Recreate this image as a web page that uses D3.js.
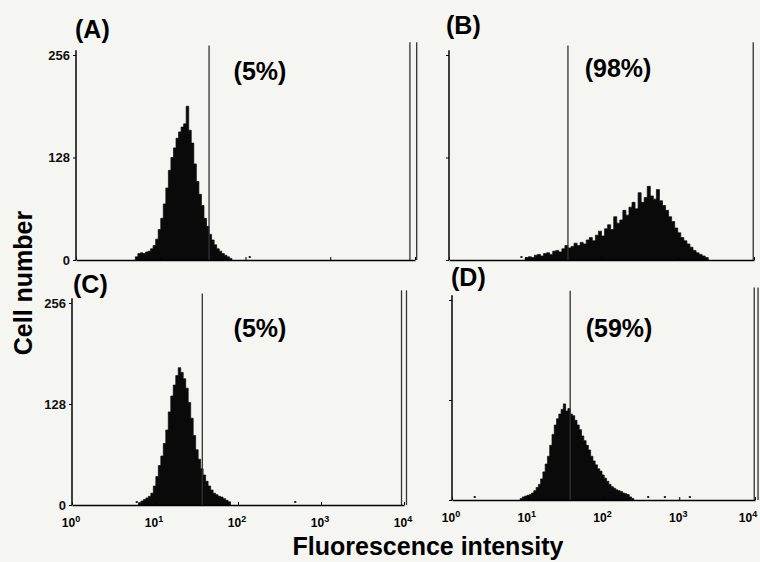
<!DOCTYPE html>
<html>
<head>
<meta charset="utf-8">
<script src="https://cdn.jsdelivr.net/npm/d3@7"></script>
<style>
  body { margin: 0; background: #f5f5f2; }
  svg { font-family: "Liberation Sans", Arial, sans-serif; font-weight: bold; }
</style>
</head>
<body>
<div id="chart"></div>
<script>
// panel titles and gated percentages
var panelNames = ["(A)", "(B)", "(C)", "(D)"];
var percents = ["(5%)", "(98%)", "(5%)", "(59%)"];

// tick values (x is log10 of fluorescence intensity)
var yTicks = [0, 128, 256];
var xTicks = [0, 1, 2, 3, 4];

// histogram channels (log10 intensity) and cell counts
var logA = [0.70, 0.73, 0.76, 0.79, 0.82, 0.85, 0.88, 0.91, 0.94, 0.97, 1.00, 1.03, 1.06, 1.09, 1.12, 1.15, 1.18, 1.21, 1.24, 1.27,
            1.30, 1.33, 1.36, 1.39, 1.42, 1.45, 1.48, 1.51, 1.54, 1.57, 1.60, 1.63, 1.66, 1.69, 1.72, 1.75, 1.78, 1.81];
var countA = [4, 8, 9, 8, 10, 11, 14, 18, 26, 38, 52, 70, 90, 112, 128, 140, 152, 160, 166, 170,
              192, 162, 146, 120, 98, 82, 68, 52, 42, 32, 25, 19, 14, 11, 8, 6, 4, 2];

var logB = [1.00, 1.04, 1.08, 1.12, 1.16, 1.20, 1.24, 1.28, 1.32, 1.36, 1.40, 1.44, 1.48, 1.52, 1.56, 1.60, 1.64, 1.68, 1.72, 1.76,
            1.80, 1.84, 1.88, 1.92, 1.96, 2.00, 2.04, 2.08, 2.12, 2.16, 2.20, 2.24, 2.28, 2.32, 2.36, 2.40, 2.44, 2.48, 2.52, 2.56,
            2.60, 2.64, 2.68, 2.72, 2.76, 2.80, 2.84, 2.88, 2.92, 2.96, 3.00, 3.04, 3.08, 3.12, 3.16, 3.20, 3.24, 3.28, 3.32, 3.36];
var countB = [3, 4, 3, 6, 7, 5, 8, 9, 7, 11, 12, 10, 14, 18, 15, 17, 21, 18, 22, 20,
              25, 28, 24, 31, 36, 30, 39, 44, 38, 54, 46, 50, 62, 56, 66, 72, 64, 84, 72, 78,
              92, 80, 76, 88, 74, 68, 62, 54, 48, 40, 34, 28, 24, 20, 16, 12, 9, 7, 5, 3];

var logC = [0.80, 0.83, 0.86, 0.89, 0.92, 0.95, 0.98, 1.01, 1.04, 1.07, 1.10, 1.13, 1.16, 1.19, 1.22, 1.25, 1.28, 1.31, 1.34,
            1.37, 1.40, 1.43, 1.46, 1.49, 1.52, 1.55, 1.58, 1.61, 1.64, 1.67, 1.70, 1.73, 1.76, 1.79, 1.82, 1.85, 1.88];
var countC = [3, 5, 7, 9, 11, 15, 24, 36, 50, 62, 78, 95, 118, 138, 152, 164, 174, 168, 160,
              148, 130, 110, 88, 70, 58, 46, 38, 30, 24, 19, 15, 13, 11, 10, 8, 6, 4];

var logD = [0.90, 0.93, 0.96, 0.99, 1.02, 1.05, 1.08, 1.11, 1.14, 1.17, 1.20, 1.23, 1.26, 1.29, 1.32, 1.35, 1.38, 1.41, 1.44, 1.47,
            1.50, 1.53, 1.56, 1.59, 1.62, 1.65, 1.68, 1.71, 1.74, 1.77, 1.80, 1.83, 1.86, 1.89, 1.92, 1.95, 1.98, 2.01, 2.04, 2.07,
            2.10, 2.13, 2.16, 2.19, 2.22, 2.25, 2.28, 2.31, 2.34, 2.37];
var countD = [2, 4, 5, 6, 7, 9, 12, 16, 20, 27, 36, 46, 56, 70, 84, 96, 104, 110, 116, 123,
              114, 117, 110, 108, 102, 96, 90, 82, 76, 70, 64, 56, 50, 45, 40, 37, 32, 28, 24, 20,
              17, 15, 13, 12, 11, 9, 8, 7, 4, 2];

// isolated single events seen along the baseline
var strayA = [2.05];
var strayB = [0.95];
var strayC = [0.78, 2.69];
var strayD = [0.30, 2.59, 2.81, 3.14];

// marker lines (log10 intensity)
var gateLow = [1.57, 1.56, 1.57, 1.56];
var gateHigh = [[3.94, 4.02], [3.99], [3.97, 4.03], [3.99, 4.04]];

var histLogs = [logA, logB, logC, logD];
var histCounts = [countA, countB, countC, countD];
var strays = [strayA, strayB, strayC, strayD];

// where each panel sits on the page (scanned figure is slightly uneven)
var layout = [
  {x0: 76,  x1: 415, y0: 260, y1: 55,  yLabels: true,  xLabels: false, name: [75, 38],  pct: [260, 80]},
  {x0: 449, x1: 754, y0: 260, y1: 55,  yLabels: false, xLabels: false, name: [446, 34], pct: [618, 77]},
  {x0: 72,  x1: 404, y0: 505, y1: 303, yLabels: true,  xLabels: true,  name: [73, 293], pct: [260, 337]},
  {x0: 452, x1: 755, y0: 500, y1: 300, yLabels: false, xLabels: true,  name: [451, 286], pct: [619, 337]}
];

var width = 760, height = 562;

var svg = d3.select("#chart")
  .append("svg")
    .attr("width", width)
    .attr("height", height);

layout.forEach(function(p, i) {
  var g = svg.append("g");

  var x = d3.scaleLinear().domain([0, 4]).range([p.x0, p.x1]);
  var y = d3.scaleLinear().domain([0, 256]).range([p.y0, p.y1]);

  // histogram as a step area
  var logs = histLogs[i], counts = histCounts[i];
  var pts = logs.map(function(v, k) { return [v, counts[k]]; });
  var last = logs[logs.length - 1], step = logs[1] - logs[0];
  pts.push([last + step, 0]);

  g.append("path")
    .datum(pts)
    .attr("fill", "#0a0a0a")
    .attr("stroke", "#0a0a0a")
    .attr("stroke-width", 0.7)
    .attr("d", d3.area()
      .curve(d3.curveStepAfter)
      .x(function(d) { return x(d[0]); })
      .y0(y(0))
      .y1(function(d) { return y(d[1]); }));

  g.selectAll(".stray")
    .data(strays[i])
    .enter().append("rect")
      .attr("class", "stray")
      .attr("x", function(d) { return x(d) - 1; })
      .attr("y", y(0) - 4)
      .attr("width", 2)
      .attr("height", 2)
      .attr("fill", "#222");

  // gate markers
  g.append("line")
    .attr("x1", x(gateLow[i])).attr("x2", x(gateLow[i]))
    .attr("y1", y(0)).attr("y2", y(268))
    .attr("stroke", "#333").attr("stroke-width", 1.3);

  g.selectAll(".hi")
    .data(gateHigh[i])
    .enter().append("line")
      .attr("class", "hi")
      .attr("x1", function(d) { return x(d); })
      .attr("x2", function(d) { return x(d); })
      .attr("y1", y(0)).attr("y2", y(272))
      .attr("stroke", "#333").attr("stroke-width", 1.3);

  // x axis
  var xAxis = g.append("g")
    .attr("transform", "translate(0," + y(0) + ")")
    .call(d3.axisBottom(x).tickValues(xTicks).tickSizeInner(-3).tickSizeOuter(0).tickFormat(""));
  xAxis.select(".domain").attr("stroke-width", 1.6);

  if (p.xLabels) {
    var lab = g.selectAll(".xlab")
      .data(xTicks)
      .enter().append("text")
        .attr("class", "xlab")
        .attr("x", function(d) { return Math.min(x(d) - 1, width - 12); })
        .attr("y", y(0) + 22)
        .attr("text-anchor", "middle")
        .style("font-size", "12px");
    lab.append("tspan").text("10");
    lab.append("tspan")
      .attr("dy", -5)
      .style("font-size", "9px")
      .text(function(d) { return d; });
  }

  // y axis
  var yAxis = g.append("g")
    .attr("transform", "translate(" + p.x0 + ",0)")
    .call(d3.axisLeft(y).tickValues(yTicks).tickSizeInner(3).tickSizeOuter(0)
      .tickFormat(p.yLabels ? d3.format("d") : ""));
  yAxis.select(".domain").remove();
  yAxis.selectAll("text")
    .style("font-family", "'Liberation Sans', Arial, sans-serif")
    .style("font-weight", "bold")
    .style("font-size", "13px")
    .attr("fill", "#111");
  g.append("line")
    .attr("x1", p.x0).attr("x2", p.x0)
    .attr("y1", y(0)).attr("y2", y(262))
    .attr("stroke", "#111").attr("stroke-width", 1.6);

  // panel letter and percentage
  g.append("text")
    .attr("x", p.name[0]).attr("y", p.name[1])
    .style("font-size", "25px")
    .text(panelNames[i]);

  g.append("text")
    .attr("x", p.pct[0]).attr("y", p.pct[1])
    .attr("text-anchor", "middle")
    .style("font-size", "25px")
    .text(percents[i]);
});

// shared axis titles
svg.append("text")
  .attr("transform", "translate(32,283) rotate(-90)")
  .attr("text-anchor", "middle")
  .style("font-size", "25px")
  .text("Cell number");

svg.append("text")
  .attr("x", 428)
  .attr("y", 555)
  .attr("text-anchor", "middle")
  .style("font-size", "25px")
  .text("Fluorescence intensity");
</script>
</body>
</html>
